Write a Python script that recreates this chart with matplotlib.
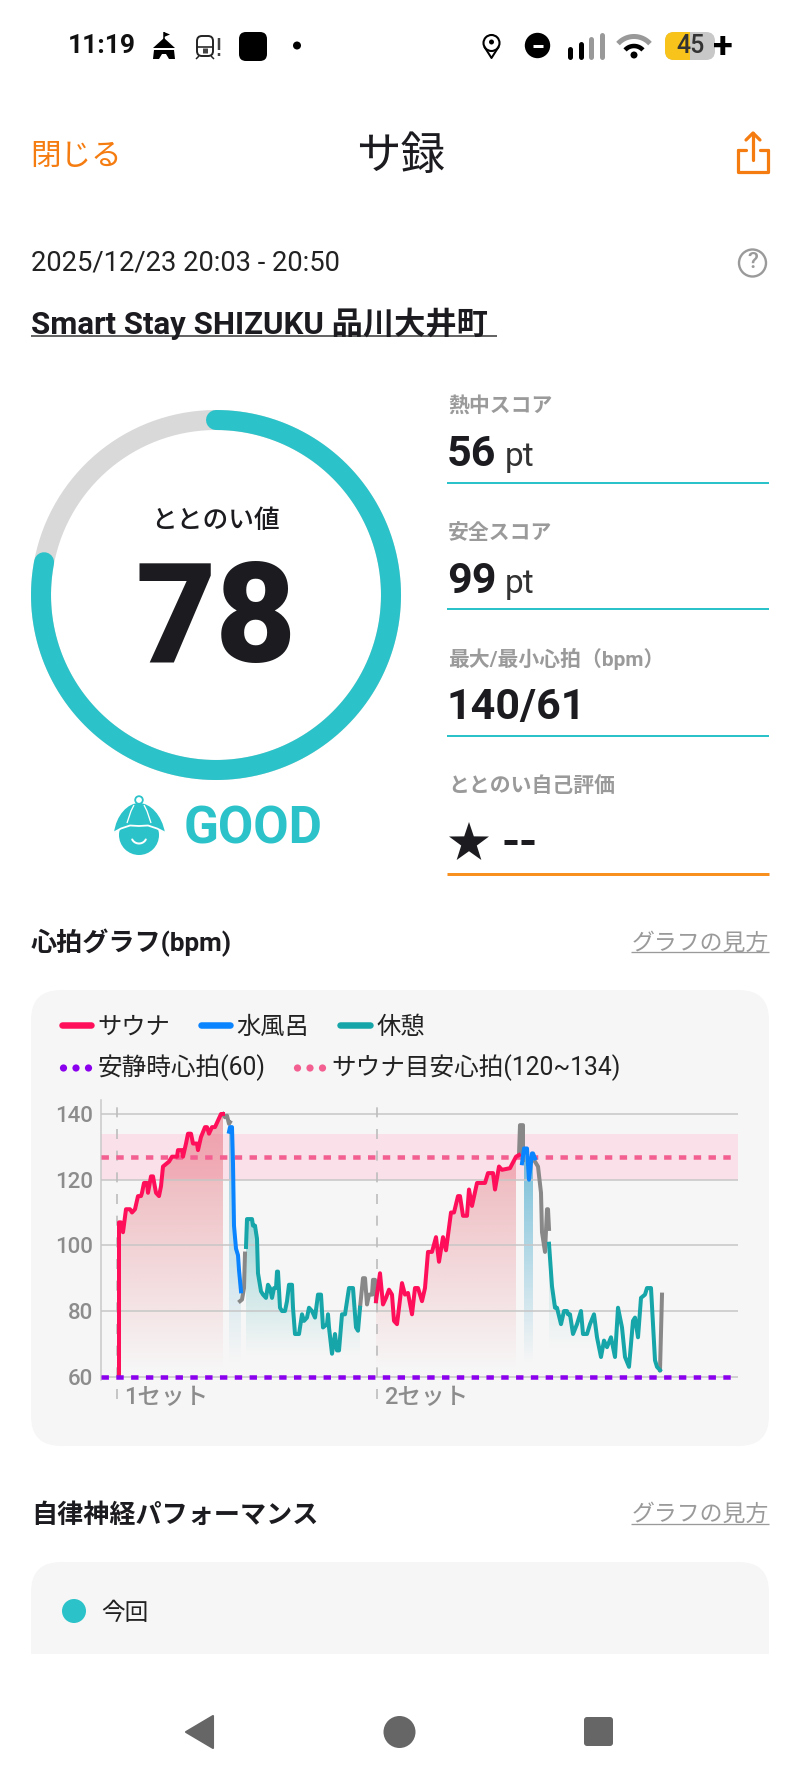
import numpy as np
import matplotlib
matplotlib.use("Agg")
import matplotlib.pyplot as plt
from matplotlib.patches import Polygon, Circle, FancyBboxPatch, Rectangle, PathPatch
from matplotlib.path import Path

# ---------- data ----------
set_labels = ["1セット", "2セット"]
set_starts = [-2.7, 256.7]
y_ticks = [60, 80, 100, 120, 140]
rest_hr = 60
target_low, target_high = 120, 134
target_mid = 127

sauna1_t = [-1, -1, 1, 3, 6, 10, 12, 15, 18, 21, 22, 24, 27, 28, 31, 33, 36, 39, 41, 43, 47, 49, 52, 57, 58, 62, 63, 66, 68, 71, 73, 77, 78, 81, 85, 87, 89, 92, 95, 98, 101, 103]
sauna1_hr = [60, 107, 107, 104, 111, 111, 110, 111, 115, 115, 116, 119, 119, 116, 121, 121, 116, 115, 118, 124, 125, 125.5, 127, 127, 129, 129, 127, 131, 134, 134, 131, 131, 129, 133, 136, 136, 134, 136, 136, 138, 140, 140]
gap1_t = [103, 105, 107, 109, 110]
gap1_hr = [140, 139, 139.5, 137, 137.5]
cold1_t = [109, 110, 112, 113, 114, 116, 118, 119, 121]
cold1_hr = [134.6, 136, 136, 125, 106, 99, 97, 92.5, 86]
gap2_t = [120, 122, 124, 125]
gap2_hr = [83, 83.5, 87, 97.5]
rest1_t = [126, 127, 132, 133, 135, 137, 138, 141, 143, 146, 148, 150, 152, 154, 156, 157, 158, 160, 162, 165, 167, 169, 172, 173, 175, 179, 182, 184, 187, 189, 192, 195, 198, 201, 203, 207, 208, 209, 212, 215, 217, 219, 222, 225, 229, 233, 236, 238, 240]
rest1_hr = [99.5, 108, 108, 106, 106, 102, 91.5, 86, 85, 84, 88, 87, 84, 87, 87, 92, 92, 81, 80, 80, 83, 88, 88, 81, 73, 73, 79, 77, 78, 81, 80, 78, 85, 85, 75, 76, 79, 75, 67, 73, 68, 68, 79, 79, 87, 87, 75, 74, 81]
gap3_t = [240, 243, 245, 247, 249, 252, 253, 255, 256]
gap3_hr = [81, 90, 90, 82, 85, 85, 89.5, 89.5, 83]
sauna2_t = [256, 260, 263, 266, 269, 272, 274, 277, 282, 285, 288, 292, 295, 298, 302, 305, 308, 312, 316, 319, 323, 326, 331, 334, 338, 340, 343, 347, 349, 352, 357, 365, 368, 373, 375, 379, 382, 390, 396, 399]
sauna2_hr = [83, 91.5, 82, 84, 86.5, 85, 77, 76, 88.5, 85, 85.5, 79, 87, 87, 83, 87, 98, 98, 102.5, 95, 102.5, 98.5, 110, 110, 115, 115, 109, 109, 117, 112, 119, 119, 122, 122, 117, 124, 123, 123.5, 127, 127.5]
gap4_t = [399, 400, 403, 403]
gap4_hr = [127.5, 136.6, 136.6, 126]
cold2_t = [402, 404, 407, 409, 412, 413, 415]
cold2_hr = [125, 129.5, 129.5, 120, 128, 128, 126.5]
gap5_t = [415, 418, 421, 422, 425, 427, 428, 429]
gap5_hr = [125.5, 124, 116, 104, 98, 111, 111, 105]
rest2_t = [429, 432, 435, 437, 441, 444, 447, 448, 450, 453, 457, 461, 463, 467, 470, 474, 477, 481, 484, 487, 491, 495, 498, 502, 505, 509, 513, 515, 518, 521, 525, 527, 531, 535, 537, 540]
rest2_hr = [100.5, 87.5, 81, 81, 76, 80, 80, 79, 79, 73, 76, 80, 73, 73, 76, 79, 72, 66, 71, 69, 72, 66, 81, 75, 66, 63, 77, 78, 72, 84, 85, 87, 87, 65, 63, 62]
gap6_t = [540, 542]
gap6_hr = [62, 85]

total_score = 78
score_labels = ["熱中スコア", "安全スコア", "最大/最小心拍（bpm）", "ととのい自己評価"]
score_values = ["56", "99", "140/61", "--"]

# ---------- style ----------
RED, BLUE, TEAL, GRAY = "#ff0f5a", "#0a84ff", "#16a5a8", "#888888"
PURPLE, PINK = "#8a00ee", "#f25f90"
MINT, ORANGE, INK, MUTED = "#2bc3c9", "#f57c10", "#1c1c20", "#9a9a9a"
CARD = "#f7f6f6"
FONT = ["Roboto", "Noto Sans CJK JP"]
CJK = ["Noto Sans CJK JP", "Roboto"]

W, H = 800, 1778
fig = plt.figure(figsize=(W / 100, H / 100), dpi=100, facecolor="white")
page = fig.add_axes([0, 0, 1, 1], zorder=0)
page.set_xlim(0, W)
page.set_ylim(H, 0)
page.axis("off")


def T(x, y, s, size, color=INK, ha="left", va="center", weight="normal", family=FONT, **kw):
    return page.text(x, y, s, fontsize=size, color=color, ha=ha, va=va, fontweight=weight, family=family, **kw)


def L(xs, ys, color, lw_px, cap="butt", **kw):
    page.plot(xs, ys, color=color, lw=lw_px * 0.72, solid_capstyle=cap, **kw)


def rbox(x0, y0, x1, y1, r, color, **kw):
    page.add_patch(FancyBboxPatch((x0 + r, y0 + r), x1 - x0 - 2 * r, y1 - y0 - 2 * r,
                                  boxstyle=f"round,pad={r},rounding_size={r}", fc=color, ec="none", **kw))


# ---------- status bar ----------
T(68, 46, "11:19", 19, "#111111", weight="bold")
page.add_patch(Polygon([(164, 38), (175, 48), (153, 48)], fc="black"))
page.add_patch(Polygon([(154, 50), (174, 50), (175, 59), (169, 59), (166, 54), (162, 54), (159, 59), (153, 59)], fc="black"))
L([164, 164], [32, 39], "black", 1.5)
page.add_patch(Polygon([(164, 32), (170, 34.5), (164, 37)], fc="black"))
page.add_patch(FancyBboxPatch((197, 36), 16, 20, boxstyle="round,pad=0,rounding_size=5", fc="none", ec="#222222", lw=1.4))
L([197, 213], [47, 47], "#222222", 1.6)
L([199, 196], [56, 59], "#222222", 1.5)
L([211, 214], [56, 59], "#222222", 1.5)
L([205, 205], [48, 53], "#444444", 5)
L([219, 219], [38, 50], "#444444", 2.5)
L([219, 219], [53, 56], "#444444", 2.5)
rbox(239, 32, 267, 61, 7, "black")
page.add_patch(Circle((297, 45.5), 4, fc="black"))

page.add_patch(Circle((491.5, 43), 8, fc="none", ec="black", lw=1.5))
page.add_patch(Circle((491.5, 42), 2.5, fc="black"))
L([484.5, 491.5, 498.5], [47, 58, 47], "black", 2, cap="round")
page.add_patch(Circle((537.5, 45.5), 12.7, fc="black"))
L([532.5, 542.5], [45.5, 45.5], "white", 3)
for x, y0, c in [(569.5, 49, "black"), (580.5, 44, "black"), (591, 39, "#999999"), (601.5, 35, "#999999")]:
    L([x, x], [y0, 56.5], c, 5, cap="round")
for r, c, lw in [(21.5, "#999999", 5), (12, "black", 4.5)]:
    a = np.radians(np.linspace(222, 318, 30))
    L(634 + r * np.cos(a), 58 + r * np.sin(a), c, lw)
page.add_patch(Circle((634, 55), 3.5, fc="black"))
rbox(665, 32, 715, 60, 9, "#c8c8c8")
page.add_patch(FancyBboxPatch((674, 41), 35, 10, boxstyle="round,pad=9,rounding_size=9", fc="#f8c31a", ec="none"))
page.add_patch(Rectangle((690, 32), 34, 28, fc="#c8c8c8", ec="none"))
page.add_patch(Rectangle((706, 30), 20, 32, fc="white", ec="none"))
rbox(690, 32, 715, 60, 9, "#c8c8c8")
page.add_patch(Rectangle((690, 32), 10, 28, fc="#c8c8c8", ec="none"))
T(691, 46, "45", 18, "#333333", ha="center", weight="medium")
T(723, 48, "+", 26, "black", ha="center", weight="bold")

# ---------- header ----------
T(30, 156, "閉じる", 22, ORANGE, family=CJK)
T(401, 156, "サ録", 32, INK, ha="center", family=CJK)
L([738, 738, 768, 768], [150, 172, 172, 150], ORANGE, 3.2, cap="round", solid_joinstyle="round")
L([753, 753], [160, 133], ORANGE, 3.2, cap="round")
L([746, 753, 760], [140, 133, 140], ORANGE, 3.2, cap="round", solid_joinstyle="round")
L([738, 746], [150, 150], ORANGE, 3.2, cap="round")
L([760, 768], [150, 150], ORANGE, 3.2, cap="round")

T(31, 263, "2025/12/23 20:03 - 20:50", 19.7, "#222222")
page.add_patch(Circle((752.5, 263), 13.5, fc="none", ec=MUTED, lw=1.7))
T(752.5, 263, "?", 16, MUTED, ha="center", weight="medium")
T(31, 324, "Smart Stay SHIZUKU 品川大井町", 22.5, INK, weight="bold")
L([31, 497], [335.5, 335.5], "#333333", 1.5)

# ---------- gauge ----------
cx, cy, R = 216, 595, 175
ang = np.linspace(0, 2 * np.pi, 300)
L(cx + R * np.cos(ang), cy + R * np.sin(ang), "#d9d9d9", 20)
ang = np.radians(np.linspace(-90, -90 + 360 * total_score / 100, 300))
L(cx + R * np.cos(ang), cy + R * np.sin(ang), MINT, 20, cap="round")
T(216, 520, "ととのい値", 18.5, INK, ha="center", family=CJK, weight="medium")
T(216, 662, str(total_score), 100, INK, ha="center", va="baseline", weight="heavy")
T(184, 844, "GOOD", 37, MINT, va="baseline", weight="bold")

# mascot
page.add_patch(Circle((139, 800), 3.8, fc="none", ec=MINT, lw=1.3))
page.add_patch(Circle((139, 835), 20, fc=MINT))
verts = [(114, 833), (116, 815), (128, 803), (139, 803), (150, 803), (162, 815), (165, 833),
         (155, 827), (147, 824), (139, 825), (131, 824), (123, 827), (114, 833)]
codes = [Path.MOVETO] + [Path.CURVE4] * 12
page.add_patch(PathPatch(Path(verts, codes), fc=MINT, ec="none", zorder=3))
L([113, 121, 130, 139, 148, 157, 166], [833, 828.5, 825.5, 826, 825.5, 828.5, 833], "white", 1.8, zorder=4)
L([127, 131, 134], [823, 811, 805], "white", 1.3, zorder=4)
L([151, 147, 144], [823, 811, 805], "white", 1.3, zorder=4)
a = np.radians(np.linspace(25, 155, 20))
L(139 + 7.5 * np.cos(a), 836.5 + 7 * np.sin(a), "white", 2, cap="round", zorder=4)

# ---------- scores ----------
x0, x1 = 447, 769
label_y = [406, 533, 659, 786]
value_y = [466, 593, 719]
rule_y = [483, 609, 736]
for lab, y in zip(score_labels, label_y):
    T(448, y, lab, 15, MUTED, weight="bold", family=FONT)
for val, y in zip(score_values[:3], value_y):
    T(447, y, val, 31, INK, va="baseline", weight="bold")
T(505, value_y[0], "pt", 24, "#333333", va="baseline")
T(505, value_y[1], "pt", 24, "#333333", va="baseline")
for y in rule_y:
    L([x0, x1], [y, y], MINT, 2)
L([x0, x1], [874, 874], "#f7901e", 3)
outer, inner = 21, 8.2
th = np.radians(-90 + 36 * np.arange(10))
rr = np.where(np.arange(10) % 2 == 0, outer, inner)
page.add_patch(Polygon(np.c_[469 + rr * np.cos(th), 843 + rr * np.sin(th)], fc=INK))
L([504, 517], [842, 842], INK, 5)
L([521, 534], [842, 842], INK, 5)

# ---------- heart-rate section ----------
T(31, 943, "心拍グラフ(bpm)", 18.8, INK, weight="bold")
T(769, 943, "グラフの見方", 16.5, MUTED, ha="right", family=CJK)
L([631, 769], [952, 952], MUTED, 1.3)
rbox(31, 990, 769, 1446, 30, CARD)

for xa, xb, c, xt, s in [(62, 91, RED, 97, "サウナ"), (201, 230, BLUE, 236, "水風呂"), (340, 370, TEAL, 377, "休憩")]:
    L([xa, xb], [1025, 1025], c, 6.5, cap="round")
    T(xt, 1027, s, 17.5, "#222222", family=CJK)
for xs, c, xt, s in [(60, PURPLE, 98, "安静時心拍(60)"), (294, PINK, 331, "サウナ目安心拍(120~134)")]:
    for k in range(3):
        page.add_patch(Circle((xs + 3.5 + k * 12.5, 1068), 3.6, fc=c))
    T(xt, 1068, s, 17.7, "#222222")

# chart axes: px-based placement, data-based drawing
L_PX, R_PX, T_PX, B_PX = 101, 738, 1100, 1380
ax = fig.add_axes([L_PX / W, 1 - B_PX / H, (R_PX - L_PX) / W, (B_PX - T_PX) / H], zorder=1)
ax.patch.set_visible(False)
for s in ["top", "right", "bottom"]:
    ax.spines[s].set_visible(False)
ax.spines["left"].set_color("#c9c9c9")
ax.spines["left"].set_linewidth(1.1)
ax.axhspan(target_low, target_high, color="#fae0e8", zorder=1, lw=0)


def grad(t, hr, rgb, a_top, y_top, y_bot):
    poly = Polygon(list(zip(t, hr)) + [(t[-1], 60), (t[0], 60)], transform=ax.transData, fc="none", ec="none")
    ax.add_patch(poly)
    arr = np.zeros((256, 1, 4))
    arr[..., :3] = np.array(rgb) / 255
    arr[..., 3] = np.linspace(a_top, 0, 256)[:, None]
    im = ax.imshow(arr, extent=[t[0], t[-1], y_bot, y_top], aspect="auto", origin="upper", zorder=2, interpolation="bilinear")
    im.set_clip_path(poly)


grad(sauna1_t[1:], sauna1_hr[1:], (222, 70, 85), 0.43, 140, 62)
grad(sauna2_t[:-1], sauna2_hr[:-1], (222, 70, 85), 0.43, 140, 62)
grad(cold1_t, cold1_hr, (70, 170, 205), 0.55, 136, 64)
grad(cold2_t[1:-1], cold2_hr[1:-1], (70, 170, 205), 0.75, 130, 64)
grad(rest1_t, rest1_hr, (22, 165, 168), 0.38, 108, 66)
grad(rest2_t[:17], rest2_hr[:17], (22, 165, 168), 0.22, 100, 68)

ax.set_yticks(y_ticks)
ax.set_xticks([])
ax.tick_params(axis="y", length=0, pad=6)
for lab in ax.get_yticklabels():
    lab.set_fontsize(16)
    lab.set_color("#8c8c8c")
    lab.set_fontweight("medium")
    lab.set_family(FONT)
ax.grid(axis="y", color="#c6c6c6", lw=1.1, zorder=3)
ax.set_axisbelow(False)
for st, lab in zip(set_starts, set_labels):
    ax.vlines(st, 53.2, 144.3, color="#bdbdbd", lw=1.2, linestyles=(0, (6, 7)), zorder=3, clip_on=False)
    ax.text(st + 7, 53.7, lab, fontsize=17, color="#8c8c8c", va="center", ha="left", family=FONT, fontweight="medium")
seglw = 4 * 0.72
for t, hr, c in [(gap1_t, gap1_hr, GRAY), (gap2_t, gap2_hr, GRAY), (gap3_t, gap3_hr, GRAY), (gap4_t, gap4_hr, GRAY),
                 (gap5_t, gap5_hr, GRAY), (gap6_t, gap6_hr, GRAY), (sauna1_t, sauna1_hr, RED), (cold1_t, cold1_hr, BLUE),
                 (rest1_t, rest1_hr, TEAL), (sauna2_t, sauna2_hr, RED), (cold2_t, cold2_hr, BLUE), (rest2_t, rest2_hr, TEAL)]:
    ax.plot(t, hr, color=c, lw=seglw, solid_joinstyle="round", zorder=4)
dash_lw = 4.5 * 0.72
dash = (0, (5.33 / dash_lw, 5.33 / dash_lw))
ax.plot([-19, 612], [target_mid, target_mid], color=PINK, lw=dash_lw, linestyle=dash, dash_capstyle="butt", zorder=3.5)
ax.plot([-19, 612], [rest_hr, rest_hr], color=PURPLE, lw=dash_lw, linestyle=dash, dash_capstyle="butt", zorder=5, clip_on=False)
ax.set_xlim(-19, 618)
ax.set_ylim(60 - (B_PX - 1376.7) / 3.285, 140 + (1114 - T_PX) / 3.285)

# ---------- autonomic section ----------
T(31, 1515, "自律神経パフォーマンス", 18.8, INK, weight="bold", family=CJK)
T(769, 1514, "グラフの見方", 16.5, MUTED, ha="right", family=CJK)
L([631, 769], [1524, 1524], MUTED, 1.3)
rbox(31, 1562, 769, 1700, 30, CARD)
page.add_patch(Rectangle((0, 1654), W, H - 1654, fc="white", ec="none", zorder=2))
page.add_patch(Circle((74, 1611), 12, fc=MINT))
T(101, 1613, "今回", 17, "#222222", family=CJK)

# ---------- nav bar ----------
NAV = "#666666"
page.add_patch(Polygon([(186, 1732), (213, 1716), (213, 1748)], fc=NAV, ec=NAV, lw=1.5, joinstyle="round", zorder=3))
page.add_patch(Circle((399.5, 1732), 16, fc=NAV, zorder=3))
rbox(584, 1717, 613, 1746, 3, NAV, zorder=3)

fig.savefig("out.png", dpi=100, facecolor="white")
